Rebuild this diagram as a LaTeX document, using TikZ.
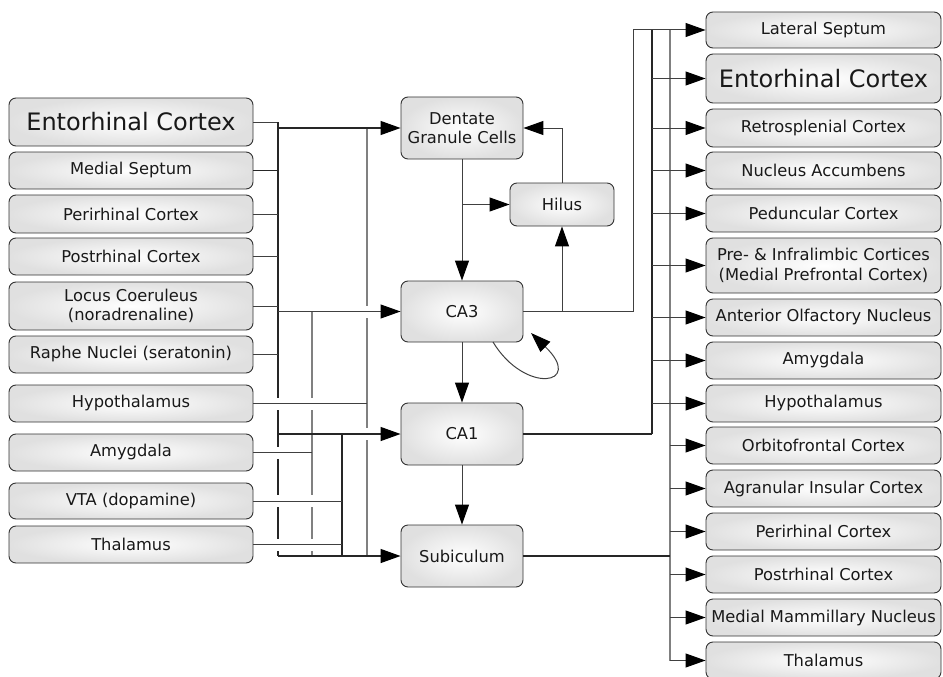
\documentclass[tikz,border=0pt]{standalone}
\usepackage{fontspec}
\setmainfont{DejaVu Sans}
\usetikzlibrary{arrows.meta}
\newcommand\lblfont{\fontsize{16.3}{19.5}\selectfont}
\newcommand\biglblfont{\fontsize{24}{28}\selectfont}
\begin{document}
\begin{tikzpicture}[x=1pt,y=-1pt,
  box/.style={rounded corners=7pt, draw=black!80, line width=0.9pt,
    inner color=white, outer color=black!12, align=center, text=black!90,
    inner sep=1pt, font=\lblfont},
  lbox/.style={box, minimum width=244pt, minimum height=37pt},
  cbox/.style={box, minimum width=122pt, minimum height=62pt},
  rbox/.style={box, minimum width=235pt, minimum height=37pt},
  wire/.style={line width=1.3pt, draw=black!85},
  twire/.style={line width=1pt, draw=black!75},
  gwire/.style={line width=1.1pt, draw=black!50},
  arr/.style={-{Triangle[length=20pt,width=14pt,color=black]}},
  gap/.style={fill=white}]
\useasboundingbox (0,0) rectangle (943,677);

% ---------- inputs (left column)
\node[lbox, minimum height=48pt, font=\biglblfont] (lEC) at (131,122) {Entorhinal Cortex};
\node[lbox] (lMS)  at (131,170.5) {Medial Septum};
\node[lbox, minimum height=38pt] (lPR) at (131,214) {Perirhinal Cortex};
\node[lbox] (lPO)  at (131,256.5) {Postrhinal Cortex};
\node[lbox, minimum height=48pt] (lLC) at (131,306) {Locus Coeruleus\\(noradrenaline)};
\node[lbox] (lRN)  at (131,354.5) {Raphe Nuclei (seratonin)};
\node[lbox] (lHY)  at (131,403.5) {Hypothalamus};
\node[lbox] (lAM)  at (131,452.5) {Amygdala};
\node[lbox, minimum height=36pt] (lVTA) at (131,501) {VTA (dopamine)};
\node[lbox] (lTH)  at (131,544.5) {Thalamus};

% ---------- hippocampal formation
\node[cbox] (DG)  at (462,128) {Dentate\\Granule Cells};
\node[box, minimum width=104pt, minimum height=43pt] (Hil) at (562,204.5) {Hilus};
\node[cbox, minimum height=61pt] (CA3) at (462,311.5) {CA3};
\node[cbox] (CA1) at (462,434) {CA1};
\node[cbox] (Sub) at (462,556) {Subiculum};

% ---------- outputs (right column)
\node[rbox, minimum height=36pt] (rLS) at (823.5,30) {Lateral Septum};
\node[rbox, minimum height=49pt, font=\biglblfont] (rEC) at (823.5,78.5) {Entorhinal Cortex};
\node[rbox, minimum height=38pt] (rRS) at (823.5,128) {Retrosplenial Cortex};
\node[rbox] (rNA) at (823.5,170.5) {Nucleus Accumbens};
\node[rbox] (rPC) at (823.5,213.5) {Peduncular Cortex};
\node[rbox, minimum height=55pt] (rPI) at (823.5,265.5) {Pre- \& Infralimbic Cortices\\(Medial Prefrontal Cortex)};
\node[rbox] (rAO) at (823.5,317.5) {Anterior Olfactory Nucleus};
\node[rbox] (rAM) at (823.5,360.5) {Amygdala};
\node[rbox] (rHY) at (823.5,403.5) {Hypothalamus};
\node[rbox] (rOF) at (823.5,445.5) {Orbitofrontal Cortex};
\node[rbox] (rAI) at (823.5,488.5) {Agranular Insular Cortex};
\node[rbox] (rPR) at (823.5,531.5) {Perirhinal Cortex};
\node[rbox] (rPO) at (823.5,574.5) {Postrhinal Cortex};
\node[rbox] (rMM) at (823.5,617.5) {Medial Mammillary Nucleus};
\node[rbox] (rTH) at (823.5,660.5) {Thalamus};

% ---------- input buses
\coordinate (aTop) at (278,122);   \coordinate (aBot) at (278,556);
\coordinate (bTop) at (367,128);   \coordinate (bBot) at (367,556);
\coordinate (cTop) at (312,311.5); \coordinate (cBot) at (312,556);
\coordinate (dTop) at (342,434);   \coordinate (dBot) at (342,556);

\draw[twire] (lEC.east) -- (aTop);
\draw[wire]  (aTop) -- (aBot);
\draw[gwire] (bTop) -- (bBot);
\draw[gwire] (cTop) -- (cBot);
\draw[wire]  (dTop) -- (dBot);

% breaks where lines pass over a bus without joining it
\foreach \x/\y in {278/403.5, 312/403.5, 278/452.5, 278/501, 312/501,
                   278/544.5, 312/544.5, 367/434, 367/311.5}
  \fill[gap] (\x-3,\y-6) rectangle (\x+3,\y+6);

\draw[wire, line width=1.8pt] (lMS.east) -- (lMS.east -| aTop);
\foreach \n in {lPR, lPO, lLC, lRN}
  \draw[twire] (\n.east) -- (\n.east -| aTop);
\draw[twire] (lHY.east) -- (lHY.east -| bTop);
\draw[twire] (lAM.east) -- (lAM.east -| cTop);
\draw[twire] (lVTA.east) -- (lVTA.east -| dTop);
\draw[twire] (lTH.east) -- (lTH.east -| dTop);

\draw[wire, arr] (aTop |- DG.west)  -- (DG.west);
\draw[twire, arr] (aTop |- CA3.west) -- (CA3.west);
\draw[wire, arr] (aTop |- CA1.west) -- (CA1.west);
\draw[wire, arr] (aBot) -- (Sub.west);

% ---------- internal circuit
\draw[twire, arr] (DG.south) -- (CA3.north);
\draw[twire, arr] (DG.south |- Hil.west) -- (Hil.west);
\draw[twire, arr] (Hil.north) |- (DG.east);
\draw[twire, arr] (CA3.east -| Hil.south) -- (Hil.south);
\draw[twire, arr] (CA3.south) -- (CA1.north);
\draw[twire, arr] (CA1.south) -- (Sub.north);
\coordinate (loopA) at (493,342);
\coordinate (loopB) at (531,333);
\draw[twire, arr] (loopA) .. controls (525,395) and (585,385) .. (loopB);

% ---------- output buses
\coordinate (rA) at (633,30);
\coordinate (rBtop) at (652,30); \coordinate (rBbot) at (652,434);
\coordinate (rCtop) at (670,30);
\draw[twire] (CA3.east) -| (rA);
\draw[twire, arr] (rA) -- (rLS.west);
\draw[wire] (rBtop) -- (rBbot);
\draw[gwire] (rCtop) -- (rCtop |- rTH.west);
\draw[wire] (CA1.east) -- (rBbot);
\draw[wire] (Sub.east) -- (Sub.east -| rCtop);
\foreach \n in {rEC, rRS, rNA, rPC, rPI, rAO, rAM, rHY}
  \draw[twire, arr] (rBtop |- \n.west) -- (\n.west);
\foreach \n in {rOF, rAI, rPR, rPO, rMM, rTH}
  \draw[twire, arr] (rCtop |- \n.west) -- (\n.west);
\end{tikzpicture}
\end{document}
